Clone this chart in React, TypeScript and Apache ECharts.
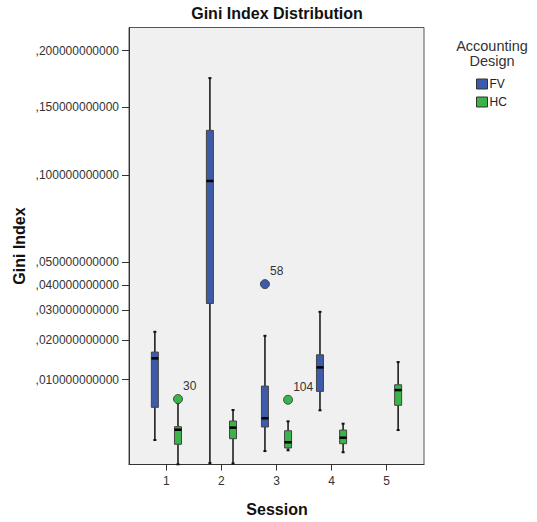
import React, { useEffect, useRef } from "react";
import * as echarts from "echarts";

// Sessions on the x axis
const sessions = [1, 2, 3, 4, 5];
// y-axis tick values (axis uses a square-root scale)
const yTickValues = [0.01, 0.02, 0.03, 0.04, 0.05, 0.1, 0.15, 0.2];

// Box statistics per session: [min, Q1, median, Q3, max]; null = no data
const fvStats: (number[] | null)[] = [
  [0.00131, 0.00499, 0.01497, 0.01664, 0.02262],
  [0.00014, 0.03252, 0.09588, 0.13185, 0.17495],
  [0.0006, 0.00249, 0.00349, 0.00867, 0.02137],
  [0.00456, 0.00766, 0.01273, 0.01591, 0.02941],
  null,
];
const hcStats: (number[] | null)[] = [
  [0.00011, 0.001, 0.00221, 0.00252, 0.00565],
  [0.00013, 0.00141, 0.00242, 0.00316, 0.0046],
  [0.00064, 0.00077, 0.00114, 0.00211, 0.00312],
  [0.00054, 0.00104, 0.00149, 0.00218, 0.00285],
  [0.00218, 0.0053, 0.0079, 0.00893, 0.01403],
];
// Outliers: [session, value, case label]
const fvOutliers: [number, number, string][] = [[3, 0.0403, "58"]];
const hcOutliers: [number, number, string][] = [
  [1, 0.00631, "30"],
  [3, 0.00619, "104"],
];

const FV_COLOR = "#3d5aab";
const HC_COLOR = "#3bb24a";
const FONT = "Arial, 'Liberation Sans', sans-serif";
const OFFSET = 0.21;

const tr = (v: number) => Math.sqrt(v);

function buildBoxData(stats: (number[] | null)[], off: number) {
  const out: number[][] = [];
  stats.forEach((s, i) => {
    if (s) out.push([sessions[i] + off, ...s.map(tr)]);
  });
  return out;
}

function buildOutliers(list: [number, number, string][], off: number) {
  return list.map(([s, v, lab]) => ({ value: [s + off, tr(v)], caseLabel: lab }));
}

function makeRender(color: string) {
  return (params: any, api: any) => {
    const x = api.value(0);
    const p = [1, 2, 3, 4, 5].map((i) => api.coord([x, api.value(i)]));
    const cx = p[0][0];
    const yMin = p[0][1], yQ1 = p[1][1], yMed = p[2][1], yQ3 = p[3][1], yMax = p[4][1];
    const w = 7;
    const lineStyle = { stroke: "#111", lineWidth: 1.5 };
    return {
      type: "group",
      children: [
        { type: "line", shape: { x1: cx, y1: yMax, x2: cx, y2: yQ3 }, style: lineStyle },
        { type: "line", shape: { x1: cx, y1: yQ1, x2: cx, y2: yMin }, style: lineStyle },
        { type: "line", shape: { x1: cx - 1.5, y1: yMax, x2: cx + 1.5, y2: yMax }, style: { stroke: "#111", lineWidth: 2 } },
        { type: "line", shape: { x1: cx - 1.5, y1: yMin, x2: cx + 1.5, y2: yMin }, style: { stroke: "#111", lineWidth: 2 } },
        {
          type: "rect",
          shape: { x: cx - w / 2, y: yQ3, width: w, height: yQ1 - yQ3 },
          style: { fill: color, stroke: "#444", lineWidth: 1 },
        },
        { type: "line", shape: { x1: cx - w / 2, y1: yMed, x2: cx + w / 2, y2: yMed }, style: { stroke: "#000", lineWidth: 2.5 } },
      ],
    };
  };
}

export default function App() {
  const ref = useRef<HTMLDivElement>(null);
  useEffect(() => {
    if (!ref.current) return;
    const chart = echarts.init(ref.current, null, { renderer: "svg" });
    const fmt = (v: number) => {
      let best = yTickValues[0];
      yTickValues.forEach((t) => {
        if (Math.abs(tr(t) - v) < Math.abs(tr(best) - v)) best = t;
      });
      return best.toFixed(12).replace(/^0\./, ",");
    };
    const outlierSeries = (name: string, color: string, data: any[]) => ({
      type: "scatter",
      name,
      data,
      symbol: "circle",
      symbolSize: 9,
      itemStyle: { color, borderColor: "#333", borderWidth: 0.8, opacity: 1 },
      label: {
        show: true,
        formatter: (p: any) => p.data.caseLabel,
        position: [10, -8],
        align: "left",
        verticalAlign: "middle",
        fontSize: 12,
        fontFamily: FONT,
        color: "#333333",
        textBorderWidth: 0,
      },
      z: 5,
    });
    chart.setOption({
      animation: false,
      backgroundColor: "#ffffff",
      title: {
        text: "Gini Index Distribution",
        left: 277,
        textAlign: "center",
        top: 5,
        padding: 0,
        textStyle: { fontSize: 16, fontWeight: "bold", fontFamily: FONT, color: "#111" },
      },
      legend: {
        orient: "vertical",
        left: 476,
        top: 78,
        padding: 0,
        itemWidth: 11,
        itemHeight: 10,
        itemGap: 6,
        textStyle: { fontSize: 12, fontFamily: FONT, color: "#222", padding: [0, 0, 0, -3] },
        data: [
          { name: "FV", icon: "rect", itemStyle: { color: FV_COLOR, borderColor: "#333", borderWidth: 1 } },
          { name: "HC", icon: "rect", itemStyle: { color: HC_COLOR, borderColor: "#333", borderWidth: 1 } },
        ],
      },
      grid: {
        left: 129,
        right: 113,
        top: 27.5,
        bottom: 57.5,
        show: true,
        backgroundColor: "#f0f0f0",
        borderColor: "#555",
        borderWidth: 1,
        containLabel: false,
        outerBoundsMode: "none",
      },
      xAxis: {
        type: "value",
        min: 0.32,
        max: 5.68,
        splitLine: { show: false },
        axisLine: { show: true, lineStyle: { color: "#333", width: 1 } },
        axisTick: { show: true, length: 6, lineStyle: { color: "#333" }, customValues: sessions },
        axisLabel: { customValues: sessions, margin: 10, fontSize: 12, fontFamily: FONT, color: "#333" },
      },
      yAxis: {
        type: "value",
        min: 0.0103,
        max: 0.4717,
        splitLine: { show: false },
        axisLine: { show: true, lineStyle: { color: "#333", width: 1 } },
        axisTick: { show: true, length: 7, lineStyle: { color: "#333" }, customValues: yTickValues.map(tr) },
        axisLabel: {
          customValues: yTickValues.map(tr),
          formatter: fmt,
          margin: 10,
          fontSize: 12,
          fontFamily: FONT,
          color: "#333",
        },
      },
      graphic: [
        {
          type: "text",
          x: 19.5,
          y: 246,
          rotation: Math.PI / 2,
          style: {
            text: "Gini Index",
            font: `bold 16px ${FONT}`,
            fill: "#111",
            textAlign: "center",
            textVerticalAlign: "middle",
          },
        },
        {
          type: "text",
          x: 277,
          y: 509,
          style: {
            text: "Session",
            font: `bold 16px ${FONT}`,
            fill: "#111",
            textAlign: "center",
            textVerticalAlign: "middle",
          },
        },
        {
          type: "text",
          x: 492,
          y: 46,
          style: { text: "Accounting", font: `14.5px ${FONT}`, fill: "#333", textAlign: "center", textVerticalAlign: "middle" },
        },
        {
          type: "text",
          x: 492,
          y: 61,
          style: { text: "Design", font: `14.5px ${FONT}`, fill: "#333", textAlign: "center", textVerticalAlign: "middle" },
        },
      ],
      series: [
        {
          type: "custom",
          name: "FV",
          itemStyle: { color: FV_COLOR },
          renderItem: makeRender(FV_COLOR),
          encode: { x: 0, y: [1, 2, 3, 4, 5] },
          data: buildBoxData(fvStats, -OFFSET),
        },
        {
          type: "custom",
          name: "HC",
          itemStyle: { color: HC_COLOR },
          renderItem: makeRender(HC_COLOR),
          encode: { x: 0, y: [1, 2, 3, 4, 5] },
          data: buildBoxData(hcStats, OFFSET),
        },
        outlierSeries("FV outliers", FV_COLOR, buildOutliers(fvOutliers, -OFFSET)),
        outlierSeries("HC outliers", HC_COLOR, buildOutliers(hcOutliers, OFFSET)),
      ],
    });
    return () => chart.dispose();
  }, []);
  return (
    <div
      ref={ref}
      style={{ position: "fixed", left: 0, top: 0, width: 537, height: 522 }}
    />
  );
}
